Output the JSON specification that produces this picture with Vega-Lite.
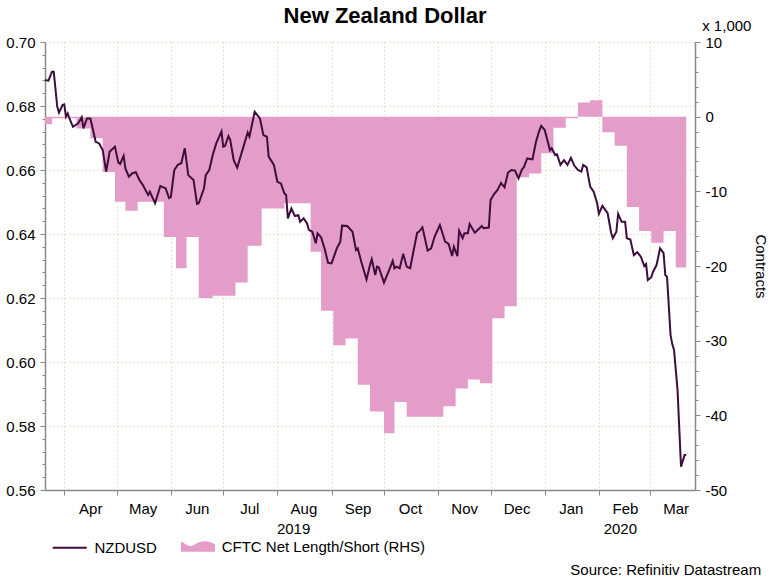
{
  "$schema": "https://vega.github.io/schema/vega-lite/v6.json",
  "width": 650,
  "height": 448,
  "autosize": {"type": "none"},
  "padding": {"left": 45, "top": 42, "right": 76, "bottom": 91},
  "background": "white",
  "config": {
    "view": {"stroke": null},
    "font": "Liberation Sans",
    "axis": {
      "labelFont": "Liberation Sans",
      "labelFontSize": 15,
      "labelColor": "#000000",
      "domainColor": "#8a8a8a",
      "domainWidth": 1.5,
      "tickColor": "#8a8a8a",
      "tickWidth": 1,
      "gridColor": "#c5d3a5",
      "gridDash": [1, 3],
      "gridWidth": 1,
      "titleFont": "Liberation Sans",
      "titleFontSize": 15,
      "titleFontWeight": "normal",
      "titleColor": "#000000"
    },
    "legend": {
      "orient": "none",
      "direction": "horizontal",
      "padding": 0,
      "symbolSize": 1156,
      "symbolStrokeWidth": 2,
      "labelFont": "Liberation Sans",
      "labelFontSize": 15,
      "labelColor": "#000000",
      "labelOffset": 6.7,
      "labelLimit": 400
    }
  },
  "title": {
    "text": "New Zealand Dollar",
    "font": "Liberation Sans",
    "fontSize": 22,
    "fontWeight": "bold",
    "color": "#000000",
    "anchor": "middle",
    "frame": "group",
    "dx": 15,
    "dy": 14
  },
  "datasets": {
    "nzd": [
      {"date": "2019-03-21", "nzdusd": 0.6881},
      {"date": "2019-03-23", "nzdusd": 0.6879},
      {"date": "2019-03-25", "nzdusd": 0.6907},
      {"date": "2019-03-26", "nzdusd": 0.6907},
      {"date": "2019-03-28", "nzdusd": 0.6798},
      {"date": "2019-03-29", "nzdusd": 0.6779},
      {"date": "2019-03-31", "nzdusd": 0.6803},
      {"date": "2019-04-01", "nzdusd": 0.6805},
      {"date": "2019-04-02", "nzdusd": 0.6767},
      {"date": "2019-04-03", "nzdusd": 0.6777},
      {"date": "2019-04-04", "nzdusd": 0.6761},
      {"date": "2019-04-06", "nzdusd": 0.6735},
      {"date": "2019-04-09", "nzdusd": 0.6746},
      {"date": "2019-04-11", "nzdusd": 0.6765},
      {"date": "2019-04-12", "nzdusd": 0.6730},
      {"date": "2019-04-14", "nzdusd": 0.6761},
      {"date": "2019-04-16", "nzdusd": 0.6761},
      {"date": "2019-04-19", "nzdusd": 0.6688},
      {"date": "2019-04-21", "nzdusd": 0.6683},
      {"date": "2019-04-23", "nzdusd": 0.6662},
      {"date": "2019-04-25", "nzdusd": 0.6595},
      {"date": "2019-04-27", "nzdusd": 0.6657},
      {"date": "2019-04-30", "nzdusd": 0.6673},
      {"date": "2019-05-02", "nzdusd": 0.6623},
      {"date": "2019-05-03", "nzdusd": 0.6619},
      {"date": "2019-05-05", "nzdusd": 0.6644},
      {"date": "2019-05-06", "nzdusd": 0.6605},
      {"date": "2019-05-08", "nzdusd": 0.6579},
      {"date": "2019-05-10", "nzdusd": 0.6590},
      {"date": "2019-05-12", "nzdusd": 0.6593},
      {"date": "2019-05-14", "nzdusd": 0.6569},
      {"date": "2019-05-16", "nzdusd": 0.6553},
      {"date": "2019-05-19", "nzdusd": 0.6522},
      {"date": "2019-05-20", "nzdusd": 0.6532},
      {"date": "2019-05-23", "nzdusd": 0.6496},
      {"date": "2019-05-26", "nzdusd": 0.6550},
      {"date": "2019-05-29", "nzdusd": 0.6543},
      {"date": "2019-05-31", "nzdusd": 0.6512},
      {"date": "2019-06-01", "nzdusd": 0.6515},
      {"date": "2019-06-03", "nzdusd": 0.6600},
      {"date": "2019-06-05", "nzdusd": 0.6616},
      {"date": "2019-06-07", "nzdusd": 0.6621},
      {"date": "2019-06-09", "nzdusd": 0.6668},
      {"date": "2019-06-11", "nzdusd": 0.6584},
      {"date": "2019-06-14", "nzdusd": 0.6569},
      {"date": "2019-06-16", "nzdusd": 0.6494},
      {"date": "2019-06-17", "nzdusd": 0.6496},
      {"date": "2019-06-20", "nzdusd": 0.6543},
      {"date": "2019-06-21", "nzdusd": 0.6584},
      {"date": "2019-06-23", "nzdusd": 0.6600},
      {"date": "2019-06-25", "nzdusd": 0.6647},
      {"date": "2019-06-27", "nzdusd": 0.6683},
      {"date": "2019-06-30", "nzdusd": 0.6720},
      {"date": "2019-07-01", "nzdusd": 0.6673},
      {"date": "2019-07-02", "nzdusd": 0.6675},
      {"date": "2019-07-04", "nzdusd": 0.6706},
      {"date": "2019-07-05", "nzdusd": 0.6694},
      {"date": "2019-07-07", "nzdusd": 0.6631},
      {"date": "2019-07-09", "nzdusd": 0.6607},
      {"date": "2019-07-12", "nzdusd": 0.6662},
      {"date": "2019-07-15", "nzdusd": 0.6717},
      {"date": "2019-07-16", "nzdusd": 0.6704},
      {"date": "2019-07-19", "nzdusd": 0.6782},
      {"date": "2019-07-22", "nzdusd": 0.6761},
      {"date": "2019-07-24", "nzdusd": 0.6709},
      {"date": "2019-07-26", "nzdusd": 0.6704},
      {"date": "2019-07-27", "nzdusd": 0.6642},
      {"date": "2019-07-30", "nzdusd": 0.6616},
      {"date": "2019-08-01", "nzdusd": 0.6563},
      {"date": "2019-08-03", "nzdusd": 0.6558},
      {"date": "2019-08-05", "nzdusd": 0.6527},
      {"date": "2019-08-06", "nzdusd": 0.6522},
      {"date": "2019-08-07", "nzdusd": 0.6449},
      {"date": "2019-08-09", "nzdusd": 0.6480},
      {"date": "2019-08-11", "nzdusd": 0.6456},
      {"date": "2019-08-13", "nzdusd": 0.6459},
      {"date": "2019-08-14", "nzdusd": 0.6438},
      {"date": "2019-08-16", "nzdusd": 0.6449},
      {"date": "2019-08-18", "nzdusd": 0.6433},
      {"date": "2019-08-19", "nzdusd": 0.6413},
      {"date": "2019-08-21", "nzdusd": 0.6407},
      {"date": "2019-08-23", "nzdusd": 0.6371},
      {"date": "2019-08-24", "nzdusd": 0.6402},
      {"date": "2019-08-26", "nzdusd": 0.6390},
      {"date": "2019-08-28", "nzdusd": 0.6355},
      {"date": "2019-08-30", "nzdusd": 0.6310},
      {"date": "2019-09-01", "nzdusd": 0.6308},
      {"date": "2019-09-04", "nzdusd": 0.6355},
      {"date": "2019-09-06", "nzdusd": 0.6376},
      {"date": "2019-09-07", "nzdusd": 0.6426},
      {"date": "2019-09-10", "nzdusd": 0.6425},
      {"date": "2019-09-13", "nzdusd": 0.6407},
      {"date": "2019-09-15", "nzdusd": 0.6350},
      {"date": "2019-09-16", "nzdusd": 0.6355},
      {"date": "2019-09-18", "nzdusd": 0.6313},
      {"date": "2019-09-21", "nzdusd": 0.6258},
      {"date": "2019-09-23", "nzdusd": 0.6303},
      {"date": "2019-09-24", "nzdusd": 0.6321},
      {"date": "2019-09-26", "nzdusd": 0.6272},
      {"date": "2019-09-27", "nzdusd": 0.6298},
      {"date": "2019-09-28", "nzdusd": 0.6296},
      {"date": "2019-10-01", "nzdusd": 0.6248},
      {"date": "2019-10-04", "nzdusd": 0.6288},
      {"date": "2019-10-06", "nzdusd": 0.6316},
      {"date": "2019-10-07", "nzdusd": 0.6293},
      {"date": "2019-10-08", "nzdusd": 0.6298},
      {"date": "2019-10-10", "nzdusd": 0.6293},
      {"date": "2019-10-12", "nzdusd": 0.6338},
      {"date": "2019-10-14", "nzdusd": 0.6298},
      {"date": "2019-10-16", "nzdusd": 0.6293},
      {"date": "2019-10-18", "nzdusd": 0.6350},
      {"date": "2019-10-20", "nzdusd": 0.6404},
      {"date": "2019-10-21", "nzdusd": 0.6407},
      {"date": "2019-10-23", "nzdusd": 0.6421},
      {"date": "2019-10-26", "nzdusd": 0.6348},
      {"date": "2019-10-28", "nzdusd": 0.6355},
      {"date": "2019-10-30", "nzdusd": 0.6392},
      {"date": "2019-11-02", "nzdusd": 0.6428},
      {"date": "2019-11-05", "nzdusd": 0.6376},
      {"date": "2019-11-07", "nzdusd": 0.6369},
      {"date": "2019-11-09", "nzdusd": 0.6331},
      {"date": "2019-11-10", "nzdusd": 0.6360},
      {"date": "2019-11-12", "nzdusd": 0.6331},
      {"date": "2019-11-13", "nzdusd": 0.6410},
      {"date": "2019-11-15", "nzdusd": 0.6387},
      {"date": "2019-11-16", "nzdusd": 0.6402},
      {"date": "2019-11-18", "nzdusd": 0.6402},
      {"date": "2019-11-19", "nzdusd": 0.6431},
      {"date": "2019-11-22", "nzdusd": 0.6404},
      {"date": "2019-11-26", "nzdusd": 0.6425},
      {"date": "2019-11-27", "nzdusd": 0.6418},
      {"date": "2019-11-30", "nzdusd": 0.6420},
      {"date": "2019-12-01", "nzdusd": 0.6506},
      {"date": "2019-12-03", "nzdusd": 0.6525},
      {"date": "2019-12-05", "nzdusd": 0.6538},
      {"date": "2019-12-07", "nzdusd": 0.6560},
      {"date": "2019-12-09", "nzdusd": 0.6546},
      {"date": "2019-12-11", "nzdusd": 0.6592},
      {"date": "2019-12-13", "nzdusd": 0.6600},
      {"date": "2019-12-15", "nzdusd": 0.6598},
      {"date": "2019-12-17", "nzdusd": 0.6574},
      {"date": "2019-12-19", "nzdusd": 0.6602},
      {"date": "2019-12-20", "nzdusd": 0.6608},
      {"date": "2019-12-22", "nzdusd": 0.6636},
      {"date": "2019-12-25", "nzdusd": 0.6633},
      {"date": "2019-12-27", "nzdusd": 0.6688},
      {"date": "2019-12-29", "nzdusd": 0.6725},
      {"date": "2019-12-30", "nzdusd": 0.6738},
      {"date": "2020-01-01", "nzdusd": 0.6725},
      {"date": "2020-01-03", "nzdusd": 0.6683},
      {"date": "2020-01-04", "nzdusd": 0.6662},
      {"date": "2020-01-05", "nzdusd": 0.6668},
      {"date": "2020-01-07", "nzdusd": 0.6647},
      {"date": "2020-01-08", "nzdusd": 0.6649},
      {"date": "2020-01-10", "nzdusd": 0.6616},
      {"date": "2020-01-12", "nzdusd": 0.6631},
      {"date": "2020-01-14", "nzdusd": 0.6616},
      {"date": "2020-01-16", "nzdusd": 0.6638},
      {"date": "2020-01-18", "nzdusd": 0.6613},
      {"date": "2020-01-20", "nzdusd": 0.6600},
      {"date": "2020-01-22", "nzdusd": 0.6595},
      {"date": "2020-01-23", "nzdusd": 0.6616},
      {"date": "2020-01-25", "nzdusd": 0.6608},
      {"date": "2020-01-27", "nzdusd": 0.6548},
      {"date": "2020-01-29", "nzdusd": 0.6532},
      {"date": "2020-01-31", "nzdusd": 0.6496},
      {"date": "2020-02-01", "nzdusd": 0.6463},
      {"date": "2020-02-03", "nzdusd": 0.6488},
      {"date": "2020-02-06", "nzdusd": 0.6465},
      {"date": "2020-02-08", "nzdusd": 0.6404},
      {"date": "2020-02-09", "nzdusd": 0.6387},
      {"date": "2020-02-11", "nzdusd": 0.6407},
      {"date": "2020-02-12", "nzdusd": 0.6463},
      {"date": "2020-02-14", "nzdusd": 0.6438},
      {"date": "2020-02-16", "nzdusd": 0.6438},
      {"date": "2020-02-17", "nzdusd": 0.6387},
      {"date": "2020-02-19", "nzdusd": 0.6383},
      {"date": "2020-02-21", "nzdusd": 0.6334},
      {"date": "2020-02-23", "nzdusd": 0.6343},
      {"date": "2020-02-25", "nzdusd": 0.6329},
      {"date": "2020-02-27", "nzdusd": 0.6300},
      {"date": "2020-02-28", "nzdusd": 0.6306},
      {"date": "2020-02-29", "nzdusd": 0.6256},
      {"date": "2020-03-02", "nzdusd": 0.6265},
      {"date": "2020-03-03", "nzdusd": 0.6282},
      {"date": "2020-03-05", "nzdusd": 0.6303},
      {"date": "2020-03-06", "nzdusd": 0.6329},
      {"date": "2020-03-07", "nzdusd": 0.6355},
      {"date": "2020-03-09", "nzdusd": 0.6340},
      {"date": "2020-03-10", "nzdusd": 0.6272},
      {"date": "2020-03-11", "nzdusd": 0.6266},
      {"date": "2020-03-13", "nzdusd": 0.6084},
      {"date": "2020-03-14", "nzdusd": 0.6056},
      {"date": "2020-03-15", "nzdusd": 0.6038},
      {"date": "2020-03-17", "nzdusd": 0.5913},
      {"date": "2020-03-19", "nzdusd": 0.5673},
      {"date": "2020-03-21", "nzdusd": 0.5709},
      {"date": "2020-03-22", "nzdusd": 0.5709}
    ],
    "cftc": [
      {"date": "2019-03-21", "net": -1.0},
      {"date": "2019-03-25", "net": -0.2},
      {"date": "2019-04-01", "net": -0.2},
      {"date": "2019-04-08", "net": -1.6},
      {"date": "2019-04-16", "net": -2.9},
      {"date": "2019-04-23", "net": -7.4},
      {"date": "2019-04-30", "net": -11.4},
      {"date": "2019-05-06", "net": -12.6},
      {"date": "2019-05-13", "net": -11.4},
      {"date": "2019-05-20", "net": -11.4},
      {"date": "2019-05-28", "net": -16.1},
      {"date": "2019-06-04", "net": -20.3},
      {"date": "2019-06-10", "net": -16.1},
      {"date": "2019-06-17", "net": -24.3},
      {"date": "2019-06-25", "net": -24.0},
      {"date": "2019-07-01", "net": -24.0},
      {"date": "2019-07-08", "net": -22.2},
      {"date": "2019-07-15", "net": -17.3},
      {"date": "2019-07-23", "net": -12.3},
      {"date": "2019-07-29", "net": -12.3},
      {"date": "2019-08-05", "net": -11.6},
      {"date": "2019-08-12", "net": -11.6},
      {"date": "2019-08-20", "net": -18.1},
      {"date": "2019-08-26", "net": -26.0},
      {"date": "2019-09-02", "net": -30.6},
      {"date": "2019-09-09", "net": -29.7},
      {"date": "2019-09-16", "net": -35.9},
      {"date": "2019-09-23", "net": -39.5},
      {"date": "2019-10-01", "net": -42.4},
      {"date": "2019-10-07", "net": -38.2},
      {"date": "2019-10-14", "net": -40.2},
      {"date": "2019-10-21", "net": -40.2},
      {"date": "2019-10-28", "net": -40.2},
      {"date": "2019-11-04", "net": -38.8},
      {"date": "2019-11-11", "net": -36.4},
      {"date": "2019-11-18", "net": -35.2},
      {"date": "2019-11-25", "net": -35.7},
      {"date": "2019-12-02", "net": -27.0},
      {"date": "2019-12-09", "net": -25.4},
      {"date": "2019-12-16", "net": -8.1},
      {"date": "2019-12-23", "net": -7.6},
      {"date": "2019-12-30", "net": -4.9},
      {"date": "2020-01-06", "net": -1.5},
      {"date": "2020-01-13", "net": -0.2},
      {"date": "2020-01-20", "net": 1.9},
      {"date": "2020-01-27", "net": 2.2},
      {"date": "2020-02-03", "net": -2.1},
      {"date": "2020-02-10", "net": -3.9},
      {"date": "2020-02-17", "net": -12.1},
      {"date": "2020-02-24", "net": -15.3},
      {"date": "2020-03-02", "net": -16.9},
      {"date": "2020-03-09", "net": -15.3},
      {"date": "2020-03-16", "net": -20.2},
      {"date": "2020-03-22", "net": -20.2}
    ]
  },
  "layer": [
    {
      "data": {"name": "cftc"},
      "mark": {"type": "area", "interpolate": "step-after", "opacity": 1},
      "encoding": {
        "x": {
          "field": "date",
          "type": "temporal",
          "scale": {"type": "utc", "domain": [{"year": 2019, "month": 3, "date": 21, "utc": true}, {"year": 2020, "month": 3, "date": 27, "utc": true}]},
          "axis": {
            "orient": "bottom",
            "format": "%b",
            "tickCount": {"interval": "month", "step": 1},
            "labelOffset": 26,
            "labelFlush": false,
            "labelOverlap": false,
            "labelBound": false,
            "tickSize": 5,
            "labelPadding": 6,
            "grid": true,
            "title": "Source: Refinitiv Datastream",
            "titleX": 715.7,
            "titleY": 84.7,
            "titleAlign": "right",
            "titleBaseline": "alphabetic",
            "titleAngle": 0
          }
        },
        "y": {
          "field": "net",
          "type": "quantitative",
          "stack": null,
          "scale": {"domain": [-50, 10], "nice": false, "zero": false},
          "axis": {
            "orient": "right",
            "values": [-50, -40, -30, -20, -10, 0, 10],
            "labelExpr": "datum.value + ''",
            "tickSize": 5,
            "labelPadding": 5,
            "grid": false,
            "title": "Contracts",
            "titleAngle": 90,
            "titleX": 65,
            "titleY": 224,
            "titleAlign": "center",
            "titleBaseline": "middle"
          }
        },
        "fill": {
          "datum": "CFTC Net Length/Short (RHS)",
          "type": "nominal",
          "scale": {"domain": ["CFTC Net Length/Short (RHS)"], "range": ["#e39dc8"]},
          "legend": {
            "legendX": 136,
            "legendY": 487.7,
            "title": null,
            "symbolType": "M-1,0.3L-1,-0.3C-0.8,-0.2,-0.6,0,-0.3,-0.05C0,-0.3,0.3,-0.35,0.6,-0.3C0.8,-0.25,0.9,-0.2,1,-0.15L1,0.3Z",
            "symbolStrokeWidth": 0,
            "symbolOpacity": 1
          }
        }
      }
    },
    {
      "data": {"name": "nzd"},
      "mark": {"type": "line", "strokeWidth": 2},
      "encoding": {
        "x": {
          "field": "date",
          "type": "temporal",
          "scale": {"type": "utc", "domain": [{"year": 2019, "month": 3, "date": 21, "utc": true}, {"year": 2020, "month": 3, "date": 27, "utc": true}]},
          "axis": null
        },
        "y": {
          "field": "nzdusd",
          "type": "quantitative",
          "scale": {"domain": [0.56, 0.70], "nice": false, "zero": false},
          "axis": {
            "orient": "left",
            "values": [0.56, 0.58, 0.60, 0.62, 0.64, 0.66, 0.68, 0.70],
            "format": ".2f",
            "tickSize": 5,
            "labelPadding": 5,
            "grid": true,
            "title": null
          }
        },
        "stroke": {
          "datum": "NZDUSD",
          "type": "nominal",
          "scale": {"domain": ["NZDUSD"], "range": ["#3d0d3d"]},
          "legend": {
            "legendX": 6.7,
            "legendY": 487.7,
            "title": null,
            "symbolType": "M-1,0L1,0",
            "symbolStrokeWidth": 2,
            "symbolOpacity": 1
          }
        }
      }
    },
    {
      "data": {"name": "nzd"},
      "mark": {"type": "line", "opacity": 0},
      "encoding": {
        "x": {
          "field": "date",
          "type": "temporal",
          "scale": {"type": "utc", "domain": [{"year": 2019, "month": 3, "date": 21, "utc": true}, {"year": 2020, "month": 3, "date": 27, "utc": true}]},
          "axis": {
            "orient": "bottom",
            "values": [{"year": 2019, "month": 8, "date": 10, "utc": true}, {"year": 2020, "month": 2, "date": 13, "utc": true}],
            "format": "%Y",
            "ticks": false,
            "tickSize": 0,
            "domain": false,
            "grid": false,
            "labelPadding": 31,
            "labelFlush": false,
            "labelOverlap": false,
            "title": null
          }
        },
        "y": {
          "field": "nzdusd",
          "type": "quantitative",
          "scale": {"domain": [0.56, 0.70], "nice": false, "zero": false},
          "axis": {
            "orient": "left",
            "values": [0.56, 0.564, 0.568, 0.572, 0.576, 0.58, 0.584, 0.588, 0.592, 0.596, 0.6, 0.604, 0.608, 0.612, 0.616, 0.62, 0.624, 0.628, 0.632, 0.636, 0.64, 0.644, 0.648, 0.652, 0.656, 0.66, 0.664, 0.668, 0.672, 0.676, 0.68, 0.684, 0.688, 0.692, 0.696, 0.7],
            "labels": false,
            "domain": false,
            "grid": false,
            "tickSize": 3,
            "title": null
          }
        }
      }
    },
    {
      "data": {"name": "cftc"},
      "mark": {"type": "line", "opacity": 0},
      "encoding": {
        "x": {
          "field": "date",
          "type": "temporal",
          "scale": {"type": "utc", "domain": [{"year": 2019, "month": 3, "date": 21, "utc": true}, {"year": 2020, "month": 3, "date": 27, "utc": true}]},
          "axis": null
        },
        "y": {
          "field": "net",
          "type": "quantitative",
          "scale": {"domain": [-50, 10], "nice": false, "zero": false},
          "axis": {
            "orient": "right",
            "values": [-50, -48, -46, -44, -42, -40, -38, -36, -34, -32, -30, -28, -26, -24, -22, -20, -18, -16, -14, -12, -10, -8, -6, -4, -2, 0, 2, 4, 6, 8, 10],
            "labels": false,
            "domain": false,
            "grid": false,
            "tickSize": 3,
            "title": "x 1,000",
            "titleAngle": 0,
            "titleX": 6.7,
            "titleY": -12,
            "titleAlign": "left",
            "titleBaseline": "alphabetic"
          }
        }
      }
    }
  ],
  "resolve": {
    "scale": {"y": "independent"},
    "axis": {"x": "independent", "y": "independent"}
  }
}
